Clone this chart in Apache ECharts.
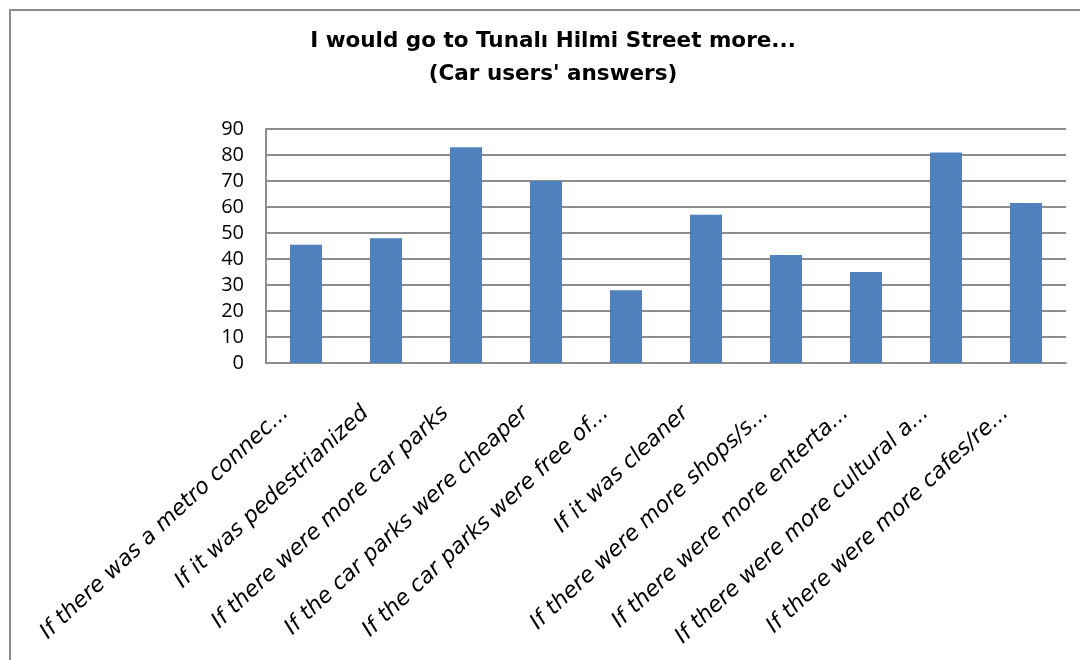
<!DOCTYPE html>
<html>
<head>
<meta charset="utf-8">
<script src="https://cdn.jsdelivr.net/npm/echarts@6/dist/echarts.min.js"></script>
<style>
html,body{margin:0;padding:0;background:#fff;}
#c{width:1080px;height:660px;}
</style>
</head>
<body>
<div id="c"></div>
<script>
const titleLines = ["I would go to Tunalı Hilmi Street more...", "(Car users' answers)"];
const categories = [
  "If there was a metro connec...",
  "If it was pedestrianized",
  "If there were more car parks",
  "If the car parks were cheaper",
  "If the car parks were free of...",
  "If it was cleaner",
  "If there were more shops/s...",
  "If there were more enterta...",
  "If there were more cultural a...",
  "If there were more cafes/re..."
];
const values = [45.5, 48, 83, 70, 28, 57, 41.5, 35, 81, 61.5];
const yMin = 0, yMax = 90, yInterval = 10;

const chart = echarts.init(document.getElementById('c'), null, {renderer: 'canvas'});
chart.setOption({
  animation: false,
  backgroundColor: '#ffffff',
  graphic: [{
    type: 'rect',
    shape: {x: 10, y: 10, width: 1100, height: 700},
    style: {fill: 'none', stroke: '#8c8c8c', lineWidth: 2},
    silent: true
  }],
  title: {
    text: titleLines.join('\n'),
    left: 548, top: 20, textAlign: 'center',
    textStyle: {fontFamily: 'DejaVu Sans', fontWeight: 'bold', fontSize: 21.5, color: '#000', lineHeight: 33}
  },
  grid: {left: 266, right: 14, top: 129, bottom: 297, containLabel: false},
  xAxis: {
    type: 'category',
    data: categories,
    axisLine: {lineStyle: {color: '#8c8c8c', width: 2}},
    axisTick: {show: false},
    axisLabel: {rotate: 43, interval: 0, margin: 28, padding: [0, 28, 0, 0],
      fontFamily: 'DejaVu Sans', fontSize: 22, color: '#000', fontStyle: 'italic'}
  },
  yAxis: {
    type: 'value', min: yMin, max: yMax, interval: yInterval,
    axisLine: {show: true, lineStyle: {color: '#8c8c8c', width: 2}},
    axisTick: {show: false},
    axisLabel: {fontFamily: 'Open Sans', fontSize: 20, color: '#000', margin: 22},
    splitLine: {lineStyle: {color: '#8c8c8c', width: 2}}
  },
  series: [{
    type: 'bar',
    data: values,
    barWidth: 32,
    itemStyle: {color: '#4F81BD'}
  }]
});
</script>
</body>
</html>
